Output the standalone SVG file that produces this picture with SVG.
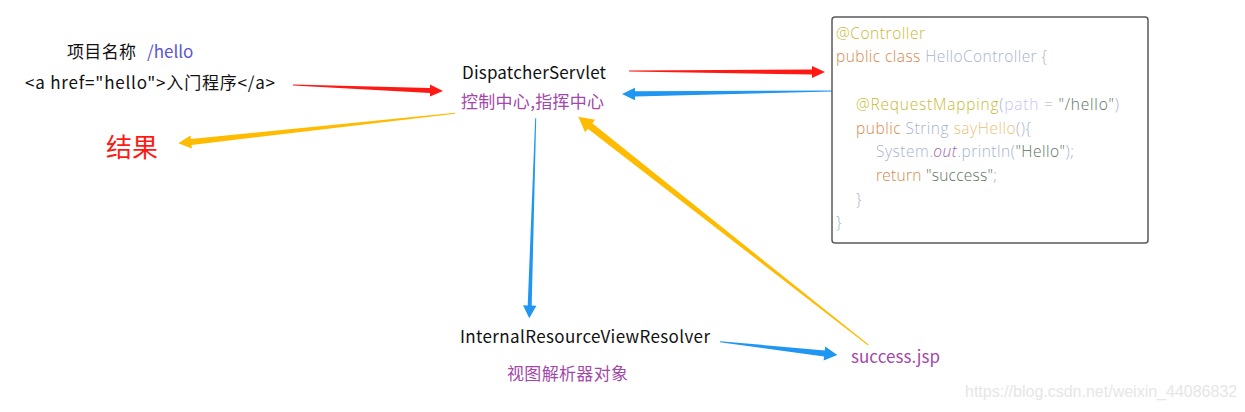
<svg xmlns="http://www.w3.org/2000/svg" width="1245" height="412" viewBox="0 0 1245 412">
<style>
  .t { font-family: "Noto Sans CJK SC", "Noto Sans", sans-serif; font-size: 17px; fill: #111; }
  .p { fill: #a348a8; }
  .code { font-family: "Open Sans", "Noto Sans", "Liberation Sans", sans-serif; font-weight: 300; font-size: 15.5px; }
  .kw { fill: #d5884a; }
  .an { fill: #c9b934; }
  .id { fill: #a6b4cc; }
  .pa { fill: #c9c3f2; }
  .fn { fill: #f0c07a; }
  .st { fill: #5d7360; }
  .it { fill: #9868a8; font-style: italic; }
  .red { fill: #fe1a14; }
  .blue { fill: #1e96f2; }
  .yel { fill: #ffbb00; }
</style>

<g id="connectors">
  <polygon class="red" points="293,84.5 430,88 430,84.5 443,91 430,96.5 430,93 293,85.5"/>
  <polygon class="red" points="629,70.5 812,69.5 812,66 825,72 812,78 812,74.5 629,71.5"/>
  <polygon class="blue" points="832,90.6 635,91.3 635,87.8 622,94 635,100.2 635,96.5 832,91.4"/>
  <polygon class="yel" points="454.95,112.8 190.9,138.9 190.5,135.4 178.3,143.3 191.9,148.4 191.5,144.9 455.05,113.8"/>
  <polygon class="blue" points="535.2,118.3 527.7,305.4 523,305.3 529.3,318.3 536.4,305.7 531.7,305.6 536.2,118.3"/>
  <polygon class="blue" points="720.06,341.2 824.7,350.5 825.2,346.5 837.3,355 823.6,360.5 824.1,356.5 719.94,342.2"/>
  <polygon class="yel" points="868.6,344.6 592.3,123.2 595.1,119.7 578.3,116.7 585.1,132.3 587.9,128.8 868,345.4"/>
</g>

<g id="request">
  <text class="t" x="67" y="58" textLength="69">项目名称</text>
  <text class="t" x="147" y="58" style="fill:#5a55d6">/hello</text>
  <text class="t" x="25" y="89" textLength="250">&lt;a href="hello"&gt;入门程序&lt;/a&gt;</text>
</g>

<g id="result">
  <text class="t red" x="106" y="157" style="font-size:26px">结果</text>
</g>

<g id="dispatcher">
  <text class="t" x="462" y="79" textLength="144">DispatcherServlet</text>
  <text class="t p" x="461" y="108" textLength="143">控制中心,指挥中心</text>
</g>

<g id="controller">
  <rect x="832" y="17" width="316" height="226" rx="3" fill="#fff" stroke="#5a5a5a" stroke-width="1.5"/>
  <text class="code" x="836" y="38.5" textLength="89"><tspan class="an">@Controller</tspan></text>
  <text class="code" x="836" y="62.2" textLength="211"><tspan class="kw">public class </tspan><tspan class="id">HelloController {</tspan></text>
  <text class="code" x="856" y="109.8" textLength="263"><tspan class="an">@RequestMapping</tspan><tspan class="id">(</tspan><tspan class="pa">path</tspan><tspan class="id"> = </tspan><tspan class="st">"/hello"</tspan><tspan class="id">)</tspan></text>
  <text class="code" x="856" y="133.5" textLength="175"><tspan class="kw">public </tspan><tspan class="id">String </tspan><tspan class="fn">sayHello</tspan><tspan class="id">(){</tspan></text>
  <text class="code" x="876" y="157.2" textLength="198"><tspan class="id">System.</tspan><tspan class="it">out</tspan><tspan class="id">.println(</tspan><tspan class="st">"Hello"</tspan><tspan class="id">);</tspan></text>
  <text class="code" x="876" y="181" textLength="121"><tspan class="kw">return </tspan><tspan class="st">"success"</tspan><tspan class="id">;</tspan></text>
  <text class="code" x="856" y="204.7"><tspan class="id">}</tspan></text>
  <text class="code" x="836" y="228.4"><tspan class="id">}</tspan></text>
</g>

<g id="resolver">
  <text class="t" x="460" y="343" textLength="250">InternalResourceViewResolver</text>
  <text class="t p" x="507" y="380" textLength="121">视图解析器对象</text>
</g>

<g id="success">
  <text class="t p" x="851" y="363" textLength="89">success.jsp</text>
</g>

<g id="watermark">
  <text x="965" y="397" style="font-family:'Liberation Sans',sans-serif;font-size:16px;fill:#e6e6e6">https://blog.csdn.net/weixin_44086832</text>
</g>
</svg>
